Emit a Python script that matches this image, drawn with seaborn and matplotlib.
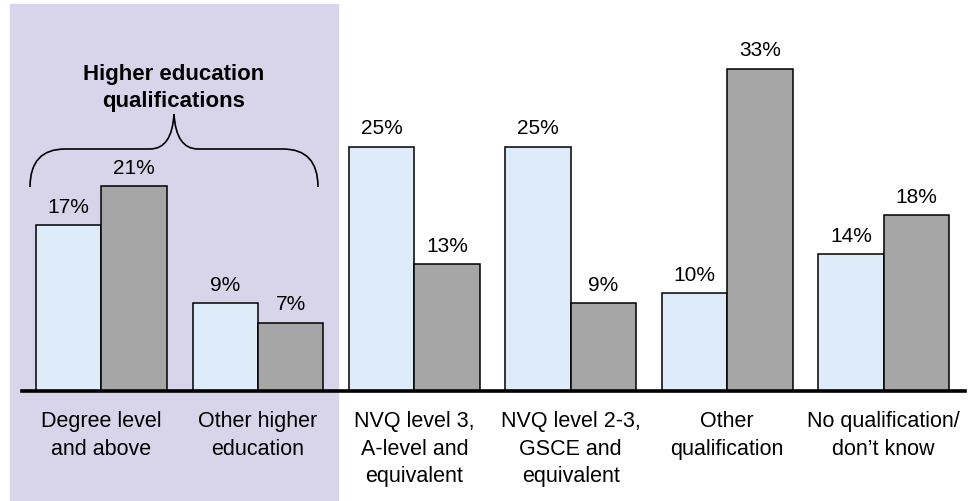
"""Qualification levels chart: two series per category, higher-education block shaded."""
import numpy as np
import pandas as pd
import matplotlib
matplotlib.use("Agg")
import matplotlib.pyplot as plt
import matplotlib.patches as mpatches
import matplotlib.transforms as mtransforms
from matplotlib.path import Path
import seaborn as sns

# ── data ──────────────────────────────────────────────────────────────────────
CATEGORIES = [
    "Degree level\nand above",
    "Other higher\neducation",
    "NVQ level 3,\nA-level and\nequivalent",
    "NVQ level 2-3,\nGSCE and\nequivalent",
    "Other\nqualification",
    "No qualification/\ndon\u2019t know",
]
SERIES = ["Group 1", "Group 2"]
VALUES_1 = [17, 9, 25, 25, 10, 14]
VALUES_2 = [21, 7, 13, 9, 33, 18]
BRACE_LABEL = "Higher education\nqualifications"

LIGHT, GREY, SHADE = "#deebf8", "#a6a6a6", "#d8d5ea"
W, H = 970, 502

df = pd.DataFrame({
    "category": CATEGORIES * 2,
    "series": [SERIES[0]] * len(CATEGORIES) + [SERIES[1]] * len(CATEGORIES),
    "value": VALUES_1 + VALUES_2,
})

sns.set_theme(style="white")
plt.rcParams["font.family"] = ["Liberation Sans", "DejaVu Sans"]
plt.rcParams["text.color"] = "black"
plt.rcParams["xtick.color"] = "black"

fig = plt.figure(figsize=(W / 100, H / 100), dpi=100)
ax = fig.add_axes([22 / W, 1 - 392 / H, 943 / W, 392 / H])
ax.patch.set_alpha(0)

# shaded block behind the first two categories
fig.patches.append(mpatches.Rectangle((10 / W, 0), 328 / W, 1 - 5 / H,
                                      transform=fig.transFigure, color=SHADE,
                                      zorder=-1))

sns.barplot(data=df, x="category", y="value", hue="series", order=CATEGORIES,
            palette=[LIGHT, GREY], saturation=1, width=0.836, gap=0,
            edgecolor="black", linewidth=1.1, legend=False, ax=ax)

for cont in ax.containers:
    ax.bar_label(cont, fmt="%d%%", padding=7, fontsize=15, color="black")

ax.set_xlim(-0.508, 5.52)
ax.set_ylim(0, 40.2)
ax.set_xlabel("")
ax.set_ylabel("")
ax.set_yticks([])
for s in ["left", "right", "top"]:
    ax.spines[s].set_visible(False)
ax.spines["bottom"].set_linewidth(2.6)
ax.spines["bottom"].set_color("black")
ax.tick_params(axis="x", length=0, pad=14, labelsize=15.5)
for lbl in ax.get_xticklabels():
    lbl.set_linespacing(1.4)
    lbl.set_multialignment("center")

# brace over the higher education categories (pixel coords, top-left origin)
px = mtransforms.Affine2D().scale(1 / W, -1 / H).translate(0, 1) + fig.transFigure
verts = [(30, 188), (30, 150), (65, 150), (150, 150), (172, 150), (174, 115),
         (176, 150), (198, 150), (283, 150), (318, 150), (318, 188)]
codes = [Path.MOVETO, Path.CURVE3, Path.CURVE3, Path.LINETO, Path.CURVE3, Path.CURVE3,
         Path.CURVE3, Path.CURVE3, Path.LINETO, Path.CURVE3, Path.CURVE3]
fig.patches.append(mpatches.PathPatch(Path(verts, codes), transform=px,
                                      facecolor="none", edgecolor="black", lw=1.2))
fig.text(174 / W, 1 - 88 / H, BRACE_LABEL, ha="center", va="center",
         fontsize=16, fontweight="bold", linespacing=1.4)

fig.savefig("out.png", dpi=100)
